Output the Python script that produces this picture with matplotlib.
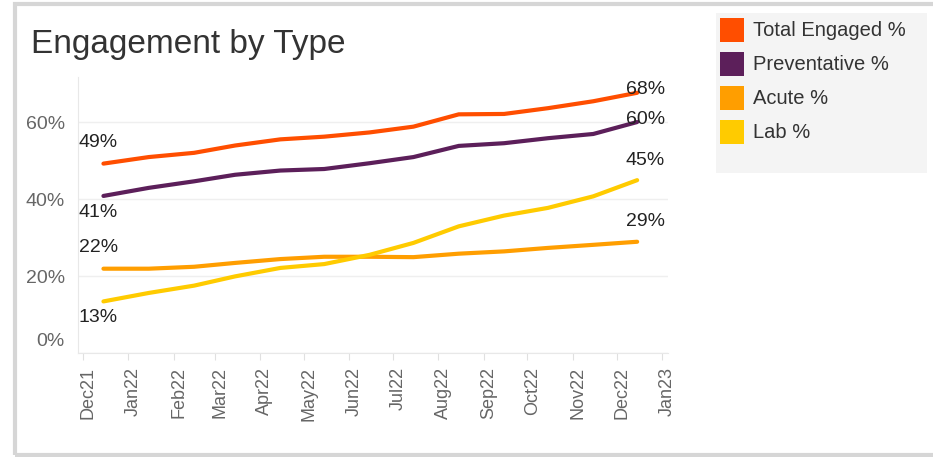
import matplotlib
matplotlib.use('Agg')
import numpy as np
import matplotlib.pyplot as plt
import matplotlib.dates as mdates
import matplotlib.transforms as mtrans
from matplotlib.patches import Rectangle
import datetime as dt

# data (mid-month points, Dec21..Dec22)
months = [dt.date(2021, 12, 15)] + [dt.date(2022, m, 15) for m in range(1, 13)]
series_names = ['Total Engaged %', 'Preventative %', 'Acute %', 'Lab %']
total_engaged = [49.2, 50.9, 52.0, 53.9, 55.5, 56.2, 57.3, 58.8, 62.0, 62.1, 63.6, 65.4, 67.6]
preventative = [40.8, 42.9, 44.6, 46.3, 47.4, 47.8, 49.3, 50.9, 53.8, 54.5, 55.8, 56.9, 60.0]
acute = [21.9, 21.9, 22.4, 23.4, 24.4, 25.0, 25.0, 24.9, 25.8, 26.4, 27.3, 28.1, 28.9]
lab = [13.4, 15.6, 17.5, 19.9, 22.1, 23.1, 25.5, 28.6, 32.9, 35.7, 37.7, 40.7, 44.9]
colors = ['#FF4E00', '#5C1F5A', '#FF9E00', '#FFCB00']

# label offsets (pixels) for first / last value
start_off = [21, -17, 21, -16]
end_off = [3, 3, 20, 20]

plt.rcParams['font.family'] = ['Liberation Sans', 'DejaVu Sans']

W, H = 933, 457
fig = plt.figure(figsize=(W / 100, H / 100), dpi=100)

def fx(x):
    return x / W

def fy(y):
    return 1 - y / H

ax = fig.add_axes([fx(78), fy(353), fx(668) - fx(78), fy(77) - fy(353)])

values = [total_engaged, preventative, acute, lab]
for name, vals, c, so, eo in zip(series_names, values, colors, start_off, end_off):
    ax.plot(months, vals, color=c, lw=3.0, solid_capstyle='round', zorder=3)
    ax.annotate(f'{vals[0]:.0f}%', (months[0], vals[0]), xytext=(-5, so),
                textcoords='offset pixels', ha='center', va='center',
                fontsize=14, color='#222222', zorder=4)
    ax.annotate(f'{vals[-1]:.0f}%', (months[-1], vals[-1]), xytext=(8, eo),
                textcoords='offset pixels', ha='center', va='center',
                fontsize=14, color='#222222', zorder=4)

ax.set_ylim(0, 71.7)
ax.set_yticks([0, 20, 40, 60])
ax.set_yticklabels([f'{v}%' for v in [0, 20, 40, 60]])
ax.yaxis.grid(True, color='#efefef', lw=1)
ax.set_axisbelow(True)

x0 = mdates.date2num(dt.date(2021, 12, 1)) - 3.4
x1 = mdates.date2num(dt.date(2023, 1, 1)) + 4.1
ax.set_xlim(x0, x1)
ax.xaxis.set_major_locator(mdates.MonthLocator())
ax.xaxis.set_major_formatter(mdates.DateFormatter('%b%y'))

for s in ['top', 'right']:
    ax.spines[s].set_visible(False)
ax.spines['left'].set_color('#e8e8e8')
ax.spines['bottom'].set_color('#e8e8e8')
ax.tick_params(axis='x', length=5, color='#e0e0e0', labelsize=13,
               labelcolor='#666666', labelrotation=90, pad=5)
ax.tick_params(axis='y', length=0, labelsize=14, labelcolor='#666666', pad=9.5)

# month labels sit a little right of their tick in the reference
for t in ax.get_xticklabels():
    t.set_transform(t.get_transform() + mtrans.ScaledTranslation(5 / 100, 0, fig.dpi_scale_trans))

# Tableau lifts the 0% label off the axis line
lab0 = ax.get_yticklabels()[0]
lab0.set_transform(lab0.get_transform() + mtrans.ScaledTranslation(0, 13 / 100, fig.dpi_scale_trans))

fig.text(fx(31), fy(53), 'Engagement by Type', fontsize=24, color='#333333',
         ha='left', va='baseline')

# legend box
fig.patches.append(Rectangle((fx(716), fy(173)), fx(927) - fx(716), fy(13) - fy(173),
                             transform=fig.transFigure, facecolor='#f4f4f4',
                             edgecolor='none', zorder=0))
for i, (name, c) in enumerate(zip(series_names, colors)):
    top = 18 + i * 34
    fig.patches.append(Rectangle((fx(720), fy(top + 24)), fx(24), 24 / H,
                                 transform=fig.transFigure, facecolor=c,
                                 edgecolor='none', zorder=1))
    fig.text(fx(753), fy(top + 12), name, fontsize=14.5, color='#333333',
             ha='left', va='center')

# outer frame
fig.patches.append(Rectangle((fx(14.5), fy(454.5)), fx(940) - fx(14.5), fy(3.5) - fy(454.5),
                             transform=fig.transFigure, facecolor='none',
                             edgecolor='#d6d6d6', lw=3, zorder=0))

fig.savefig('out.png', dpi=100)
